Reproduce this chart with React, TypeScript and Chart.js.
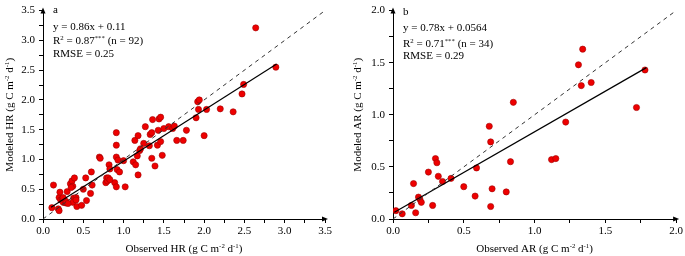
import React, { useEffect, useRef } from "react";
import { Chart, registerables } from "chart.js";

Chart.register(...registerables);

const FONT = '"Liberation Serif", "Times New Roman", serif';

// Panel a: heterotrophic respiration
const hrObserved = [
  0.11, 0.13, 0.19, 0.2, 0.2, 0.21, 0.22, 0.24, 0.25, 0.27, 0.28, 0.29, 0.3, 0.34, 0.36, 0.37, 0.39, 0.38, 0.37, 0.41,
  0.41, 0.42, 0.48, 0.5, 0.53, 0.54, 0.59, 0.6, 0.61, 0.7, 0.71, 0.78, 0.79, 0.8, 0.81, 0.82, 0.83, 0.89, 0.91, 0.91,
  0.91, 0.91, 0.93, 0.92, 0.95, 1.0, 1.02, 1.12, 1.15, 1.14, 1.17, 1.18, 1.18, 1.2, 1.21, 1.25, 1.27, 1.32, 1.33, 1.35,
  1.36, 1.35, 1.39, 1.42, 1.43, 1.44, 1.46, 1.46, 1.48, 1.5, 1.56, 1.61, 1.63, 1.66, 1.74, 1.78, 1.9, 1.92, 1.93, 1.94,
  2.0, 2.03, 2.2, 2.36, 2.47, 2.49, 2.64, 2.89, 0.25, 0.35, 0.31, 0.83,
];
const hrModeled = [
  0.19, 0.57, 0.17, 0.14, 0.36, 0.45, 0.32, 0.34, 0.28, 0.31, 0.27, 0.29, 0.46, 0.59, 0.64, 0.55, 0.69, 0.35, 0.28, 0.36,
  0.32, 0.21, 0.23, 0.5, 0.69, 0.31, 0.43, 0.79, 0.57, 1.04, 1.02, 0.61, 0.69, 0.64, 0.69, 0.91, 0.84, 0.61, 0.54, 1.45,
  1.24, 1.04, 0.99, 0.83, 0.79, 0.98, 0.54, 0.96, 0.91, 1.32, 1.06, 0.74, 1.4, 1.15, 1.18, 1.27, 1.55, 1.23, 1.42, 1.45,
  1.67, 1.02, 0.89, 1.24, 1.49, 1.68, 1.71, 1.3, 1.07, 1.52, 1.55, 1.52, 1.56, 1.32, 1.32, 1.49, 1.7, 1.97, 1.84, 2.0,
  1.4, 1.84, 1.85, 1.8, 2.1, 2.26, 3.21, 2.55, 0.36, 0.53, 0.26, 0.66,
];
const hrFit = { slope: 0.86, intercept: 0.11, from: 0.1, to: 2.9 };
const hrTickLabels = ["0.0", "0.5", "1.0", "1.5", "2.0", "2.5", "3.0", "3.5"];

// Panel b: autotrophic respiration
const arObserved = [
  0.02, 0.065, 0.145, 0.13, 0.16, 0.18, 0.19, 0.2, 0.25, 0.28, 0.3, 0.31, 0.32, 0.35, 0.41, 0.5, 0.58, 0.59, 0.68, 0.69,
  0.69, 0.7, 0.8, 0.83, 0.85, 1.12, 1.15, 1.22, 1.31, 1.33, 1.34, 1.4, 1.72, 1.78,
];
const arModeled = [
  0.08, 0.05, 0.34, 0.13, 0.06, 0.21, 0.19, 0.16, 0.45, 0.13, 0.58, 0.54, 0.41, 0.36, 0.39, 0.31, 0.22, 0.49, 0.89, 0.12,
  0.74, 0.29, 0.26, 0.55, 1.12, 0.57, 0.58, 0.93, 1.48, 1.28, 1.63, 1.31, 1.07, 1.43,
];
const arFit = { slope: 0.78, intercept: 0.0564, from: 0.01, to: 1.79 };
const arTickLabels = ["0.0", "0.5", "1.0", "1.5", "2.0"];

type Seg = { t: string; sup?: boolean };

function measureRich(ctx: CanvasRenderingContext2D, segs: Seg[], size: number) {
  let w = 0;
  for (const s of segs) {
    ctx.font = `${s.sup ? size * 0.62 : size}px ${FONT}`;
    w += ctx.measureText(s.t).width;
  }
  return w;
}

function drawRich(
  ctx: CanvasRenderingContext2D,
  segs: Seg[],
  x: number,
  y: number,
  size: number,
  align: "left" | "center"
) {
  const total = measureRich(ctx, segs, size);
  let cx = align === "center" ? x - total / 2 : x;
  ctx.textAlign = "left";
  ctx.textBaseline = "alphabetic";
  ctx.fillStyle = "#000";
  for (const s of segs) {
    const fs = s.sup ? size * 0.62 : size;
    ctx.font = `${fs}px ${FONT}`;
    ctx.fillText(s.t, cx, s.sup ? y - size * 0.38 : y);
    cx += ctx.measureText(s.t).width;
  }
}

type PanelProps = {
  width: number;
  observed: number[];
  modeled: number[];
  fit: { slope: number; intercept: number; from: number; to: number };
  max: number;
  tickLabels: string[];
  letter: string;
  name: string;
  eq: string;
  r2: string;
  n: string;
  rmse: string;
  axisWidth: number;
  padTop: number;
  padRight: number;
  textX: number;
  textRows: number[];
  yTitleX: number;
};

function Panel(p: PanelProps) {
  const ref = useRef<HTMLCanvasElement | null>(null);
  useEffect(() => {
    if (!ref.current) return;
    const points = p.observed.map((x, i) => ({ x, y: p.modeled[i] }));
    const fitLine = [
      { x: p.fit.from, y: p.fit.slope * p.fit.from + p.fit.intercept },
      { x: p.fit.to, y: p.fit.slope * p.fit.to + p.fit.intercept },
    ];
    const oneToOne = [
      { x: 0, y: 0 },
      { x: p.max, y: p.max },
    ];
    const decor = {
      id: "decor",
      afterDraw(chart: any) {
        const ctx: CanvasRenderingContext2D = chart.ctx;
        const a = chart.chartArea;
        ctx.save();
        // arrowheads
        ctx.fillStyle = "#000";
        ctx.beginPath();
        ctx.moveTo(a.right + 3, a.bottom);
        ctx.lineTo(a.right - 3, a.bottom - 2.5);
        ctx.lineTo(a.right - 3, a.bottom + 2.5);
        ctx.closePath();
        ctx.fill();
        ctx.beginPath();
        ctx.moveTo(a.left, a.top - 3);
        ctx.lineTo(a.left - 2.5, a.top + 3);
        ctx.lineTo(a.left + 2.5, a.top + 3);
        ctx.closePath();
        ctx.fill();
        // annotations
        drawRich(ctx, [{ t: p.letter }], p.textX, p.textRows[0] + 4, 11, "left");
        drawRich(ctx, [{ t: p.eq }], p.textX, p.textRows[1] + 4, 11, "left");
        drawRich(
          ctx,
          [{ t: "R" }, { t: "2", sup: true }, { t: " = " + p.r2 }, { t: "***", sup: true }, { t: " (n = " + p.n + ")" }],
          p.textX,
          p.textRows[2] + 4,
          11,
          "left"
        );
        drawRich(ctx, [{ t: "RMSE = " + p.rmse }], p.textX, p.textRows[3] + 4, 11, "left");
        // axis titles
        const unit: Seg[] = [{ t: " (g C m" }, { t: "-2", sup: true }, { t: " d" }, { t: "-1", sup: true }, { t: ")" }];
        drawRich(ctx, [{ t: "Observed " + p.name }, ...unit], (a.left + a.right) / 2, 252, 11, "center");
        ctx.translate(p.yTitleX, (a.top + a.bottom) / 2);
        ctx.rotate(-Math.PI / 2);
        drawRich(ctx, [{ t: "Modeled " + p.name }, ...unit], 0, 4, 11, "center");
        ctx.restore();
      },
    };
    const tickCb = (v: any) => {
      const i = Math.round((Number(v) / 0.5) * 1000) / 1000;
      return Number.isInteger(i) ? p.tickLabels[i] : "";
    };
    const scaleBase = {
      type: "linear" as const,
      min: 0,
      max: p.max,
      grid: { display: true, drawOnChartArea: false, drawTicks: true, tickLength: 4, color: "#000", lineWidth: 1 },
      border: { display: true, color: "#000", width: 1 },
    };
    const chart = new Chart(ref.current, {
      type: "scatter",
      data: {
        datasets: [
          {
            data: oneToOne,
            showLine: true,
            borderColor: "#333",
            borderWidth: 1,
            borderDash: [4, 4],
            pointRadius: 0,
            order: 0,
          },
          {
            data: fitLine,
            showLine: true,
            borderColor: "#000",
            borderWidth: 1.2,
            pointRadius: 0,
            order: 0,
          },
          {
            data: points,
            backgroundColor: "#ee0000",
            borderColor: "#a00000",
            borderWidth: 0.6,
            pointRadius: 3.1,
            order: 1,
          },
        ],
      } as any,
      options: {
        animation: false,
        responsive: false,
        devicePixelRatio: 1,
        layout: { padding: { top: p.padTop, right: p.padRight, left: 0, bottom: 0 } },
        plugins: { legend: { display: false }, tooltip: { enabled: false } },
        scales: {
          x: {
            ...scaleBase,
            ticks: {
              stepSize: 0.25,
              autoSkip: false,
              maxRotation: 0,
              padding: 2,
              color: "#000",
              font: { family: FONT, size: 11 },
              callback: tickCb,
            },
            afterFit: (s: any) => {
              s.height = 37;
            },
          },
          y: {
            ...scaleBase,
            ticks: {
              stepSize: 0.25,
              autoSkip: false,
              padding: 4,
              color: "#000",
              font: { family: FONT, size: 11 },
              callback: tickCb,
            },
            afterFit: (s: any) => {
              s.width = p.axisWidth;
            },
          },
        },
      } as any,
      plugins: [decor],
    });
    return () => chart.destroy();
  }, []);
  return (
    <div style={{ width: p.width, height: 256, position: "relative" }}>
      <canvas ref={ref} width={p.width} height={256} style={{ display: "block" }} />
    </div>
  );
}

export default function App() {
  useEffect(() => {
    document.body.style.margin = "0";
  }, []);
  return (
    <div style={{ display: "flex", width: 685, height: 256, background: "#fff" }}>
      <Panel
        width={340}
        observed={hrObserved}
        modeled={hrModeled}
        fit={hrFit}
        max={3.5}
        tickLabels={hrTickLabels}
        letter="a"
        name="HR"
        eq="y = 0.86x + 0.11"
        r2="0.87"
        n="92"
        rmse="0.25"
        axisWidth={43}
        padTop={6}
        padRight={15}
        textX={53}
        textRows={[9, 26, 40, 53]}
        yTitleX={9}
      />
      <Panel
        width={345}
        observed={arObserved}
        modeled={arModeled}
        fit={arFit}
        max={2.0}
        tickLabels={arTickLabels}
        letter="b"
        name="AR"
        eq="y = 0.78x + 0.0564"
        r2="0.71"
        n="34"
        rmse="0.29"
        axisWidth={53}
        padTop={4}
        padRight={6}
        textX={63}
        textRows={[11, 27, 43, 55]}
        yTitleX={17}
      />
    </div>
  );
}
